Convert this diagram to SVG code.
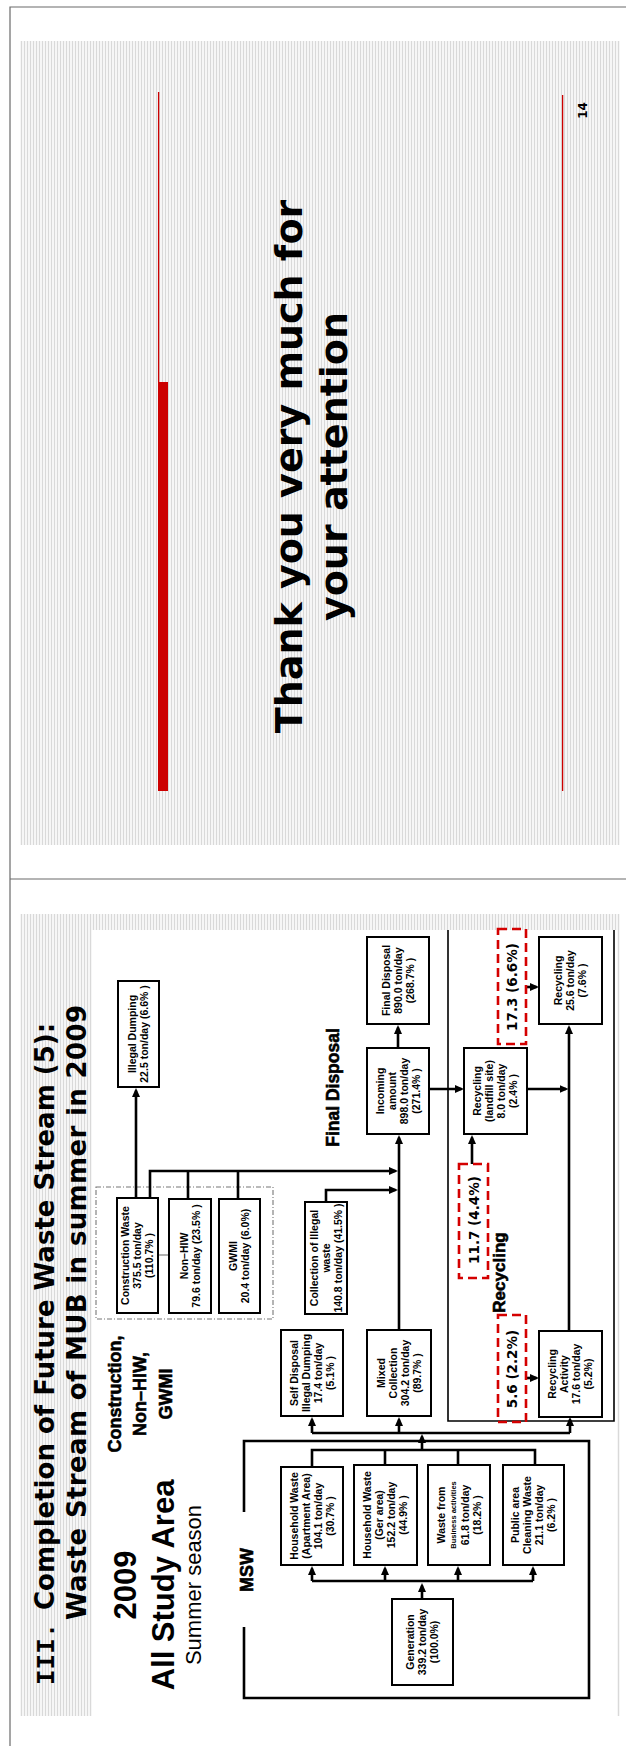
<svg xmlns="http://www.w3.org/2000/svg" width="626" height="1746" viewBox="0 0 626 1746">
  <defs>
    <pattern id="stripes" width="3" height="10" patternUnits="userSpaceOnUse">
      <rect width="3" height="10" fill="#f6f6f6"/>
      <rect width="1" height="10" fill="#d9d9d9"/>
    </pattern>
    <marker id="ah" markerUnits="userSpaceOnUse" markerWidth="9" markerHeight="8" refX="6.5" refY="4" orient="auto">
      <path d="M0,0 L9,4 L0,8 z" fill="#000"/>
    </marker>
    <style>
      .frame { fill: none; stroke: #6a6a6a; stroke-width: 1.2; }
      .box { fill: #fff; stroke: #000; stroke-width: 2; }
      .wire { fill: none; stroke: #000; stroke-width: 2.6; }
      .arrow { fill: none; stroke: #000; stroke-width: 2.6; marker-end: url(#ah); }
      .region { fill: none; stroke: #000; stroke-width: 1.6; }
      .redbox { fill: none; stroke: #d40000; stroke-width: 2.6; stroke-dasharray: 9 5; }
      .t text { font-family: "Liberation Sans", Arial, sans-serif; font-size: 10.5px; font-weight: bold; text-anchor: middle; fill: #000; }
      .t text.small { font-size: 7.5px; }
      .big { font-family: "DejaVu Sans", Verdana, sans-serif; font-weight: bold; fill: #000; }
      .head { font-family: "Liberation Sans", Arial, sans-serif; font-weight: bold; fill: #000; text-anchor: middle; }
      .heavy { stroke: #000; stroke-width: 0.6; }
      .pct { font-family: "DejaVu Sans", Verdana, sans-serif; font-weight: bold; font-size: 13.5px; text-anchor: middle; fill: #000; }
    </style>
  </defs>

  <!-- page -->
  <rect width="626" height="1746" fill="#fff"/>
  <path class="frame" d="M626,7 H10 V1746 M10,879 H626"/>

  <!-- slide 14 -->
  <g id="slide-14">
    <rect x="20" y="41" width="600" height="804" fill="url(#stripes)"/>
    <path d="M158.6,92 V382" stroke="#cc0000" stroke-width="1.3"/>
    <rect x="158" y="382" width="10" height="409" fill="#cc0000"/>
    <path d="M562.6,95 V791" stroke="#cc0000" stroke-width="1.3"/>
    <text transform="translate(587,110.5) rotate(-90)" font-family="DejaVu Sans, sans-serif" font-weight="bold" font-size="12" text-anchor="middle">14</text>
    <g class="big" font-size="38" text-anchor="middle" transform="translate(0,466.5) rotate(-90)">
      <text x="0" y="302">Thank you very much for</text>
      <text x="0" y="347">your attention</text>
    </g>
  </g>

  <!-- slide 13 background -->
  <rect x="20" y="914" width="600" height="802" fill="url(#stripes)"/>
  <rect x="92" y="930" width="525" height="786" fill="#fff"/>

  <!-- slide title -->
  <g id="title">
    <text transform="translate(54,1685) rotate(-90)" font-family="Liberation Mono, Courier New, monospace" font-weight="bold" font-size="26">III.</text>
    <text class="big" font-size="26" transform="translate(54,1610) rotate(-90)">Completion of Future Waste Stream (5):</text>
    <text class="big" font-size="26" transform="translate(86,1620) rotate(-90)" textLength="615" lengthAdjust="spacing">Waste Stream of MUB in summer in 2009</text>
  </g>

  <g id="caption" class="head" transform="translate(0,1585) rotate(-90)">
    <text x="0" y="136" font-size="31">2009</text>
    <text x="0" y="174" font-size="31">All Study Area</text>
    <text x="0" y="201" font-size="22" font-weight="normal">Summer season</text>
  </g>

  <g id="group-label" class="head heavy" font-size="18" transform="translate(0,1394) rotate(-90)">
    <text x="0" y="121">Construction,</text>
    <text x="0" y="146">Non–HIW,</text>
    <text x="0" y="172">GWMI</text>
  </g>

  <text id="msw-label" class="head heavy" font-size="18" transform="translate(253,1570) rotate(-90)">MSW</text>
  <text id="fd-label" class="head heavy" font-size="17.5" transform="translate(339,1087.5) rotate(-90)">Final Disposal</text>
  <text id="rc-label" class="head heavy" font-size="17" transform="translate(505,1272.5) rotate(-90)">Recycling</text>

  <!-- region outlines -->
  <g id="regions">
    <path class="region" d="M448,930 V1421 H614 V930"/>
    <path class="wire" stroke-width="2" d="M244,1512 V1441 H589 V1698 H244 V1627"/>
    <rect x="96" y="1187" width="177" height="132" fill="none" stroke="#777" stroke-width="1.1" stroke-dasharray="5 2 1 2"/>
    <path d="M158,1255 H169" stroke="#999" stroke-width="1.5"/>
  </g>

  <!-- connectors -->
  <g id="connectors">
    <path class="arrow" d="M422,1599 V1585.5"/>
    <path class="wire" d="M312,1581 H533"/>
    <path class="arrow" d="M312,1581 V1568.5"/>
    <path class="arrow" d="M385,1581 V1568.5"/>
    <path class="arrow" d="M458,1581 V1568.5"/>
    <path class="arrow" d="M533,1581 V1568.5"/>
    <path class="wire" d="M312,1467 V1450 H535 V1465 M385,1465 V1450 M458,1465 V1450"/>
    <path class="arrow" d="M422,1450 V1436.5"/>
    <path class="wire" d="M312,1433 H570"/>
    <path class="arrow" d="M312,1433 V1419.5"/>
    <path class="arrow" d="M399,1433 V1419.5"/>
    <path class="arrow" d="M570,1433 V1419.5"/>
    <path class="arrow" d="M399,1330 V1137.5"/>
    <path class="arrow" d="M150,1198 V1171 H395.5"/>
    <path class="wire" d="M188,1199 V1171 M238,1199 V1171"/>
    <path class="arrow" d="M326,1202 V1190 H395.5"/>
    <path class="arrow" d="M136,1198 V1090.5"/>
    <path class="arrow" d="M398,1048 V1027.5"/>
    <path class="arrow" d="M429,1089 H461.5"/>
    <path class="arrow" d="M527,1089 H566"/>
    <path class="arrow" d="M569,1331 V1027.5"/>
    <path class="arrow" stroke-width="2.2" d="M526,987 H536.5"/>
    <path class="arrow" stroke-width="2.2" d="M526,1378 H536.5"/>
    <path class="arrow" stroke-width="2.2" d="M472,1164 V1137.5"/>
  </g>

  <!-- nodes -->
  <g id="n-illegal-dumping">
    <rect class="box" x="118" y="981" width="41" height="106"/>
    <g class="t" transform="translate(138.5,1034) rotate(-90)"><text y="-2.2">Illegal Dumping</text><text y="9.8">22.5 ton/day (6.6% )</text></g>
  </g>
  <g id="n-final-disposal">
    <rect class="box" x="367" y="937" width="62" height="87"/>
    <g class="t" transform="translate(398,980.5) rotate(-90)"><text y="-8.2">Final Disposal</text><text y="3.8">890.0 ton/day</text><text y="15.8">(268.7% )</text></g>
  </g>
  <g id="n-incoming">
    <rect class="box" x="367" y="1048" width="62" height="86"/>
    <g class="t" transform="translate(398,1091) rotate(-90)"><text y="-14.2">Incoming</text><text y="-2.2">amount</text><text y="9.8">898.0 ton/day</text><text y="21.8">(271.4% )</text></g>
  </g>
  <g id="n-recycling-landfill">
    <rect class="box" x="464" y="1048" width="63" height="86"/>
    <g class="t" transform="translate(495.5,1091) rotate(-90)"><text y="-14.2">Recycling</text><text y="-2.2">(landfill site)</text><text y="9.8">8.0 ton/day</text><text y="21.8">(2.4% )</text></g>
  </g>
  <g id="n-recycling-total">
    <rect class="box" x="539" y="937" width="63" height="87"/>
    <g class="t" transform="translate(570.5,980.5) rotate(-90)"><text y="-8.2">Recycling</text><text y="3.8">25.6 ton/day</text><text y="15.8">(7.6% )</text></g>
  </g>
  <g id="n-construction">
    <rect class="box" x="117" y="1198" width="41" height="115"/>
    <g class="t" transform="translate(137.5,1255.5) rotate(-90)"><text y="-8.2">Construction Waste</text><text y="3.8">375.5 ton/day</text><text y="15.8">(110.7% )</text></g>
  </g>
  <g id="n-non-hiw">
    <rect class="box" x="169" y="1199" width="42" height="114"/>
    <g class="t" transform="translate(190,1256) rotate(-90)"><text y="-2.2">Non–HIW</text><text y="9.8">79.6 ton/day (23.5% )</text></g>
  </g>
  <g id="n-gwmi">
    <rect class="box" x="219" y="1199" width="41" height="114"/>
    <g class="t" transform="translate(239.5,1256) rotate(-90)"><text y="-2.2">GWMI</text><text y="9.8">20.4 ton/day (6.0%)</text></g>
  </g>
  <g id="n-illegal-collection">
    <rect class="box" x="305" y="1202" width="42" height="112"/>
    <g class="t" transform="translate(326,1258) rotate(-90)"><text y="-8.2">Collection of Illegal</text><text y="3.8">waste</text><text y="15.8">140.8 ton/day (41.5% )</text></g>
  </g>
  <g id="n-self-disposal">
    <rect class="box" x="281" y="1330" width="62" height="86"/>
    <g class="t" transform="translate(312,1373) rotate(-90)"><text y="-14.2">Self Disposal</text><text y="-2.2">Illegal Dumping</text><text y="9.8">17.4 ton/day</text><text y="21.8">(5.1% )</text></g>
  </g>
  <g id="n-mixed-collection">
    <rect class="box" x="367" y="1330" width="64" height="86"/>
    <g class="t" transform="translate(399,1373) rotate(-90)"><text y="-14.2">Mixed</text><text y="-2.2">Collection</text><text y="9.8">304.2 ton/day</text><text y="21.8">(89.7% )</text></g>
  </g>
  <g id="n-recycling-activity">
    <rect class="box" x="539" y="1331" width="63" height="86"/>
    <g class="t" transform="translate(570.5,1374) rotate(-90)"><text y="-14.2">Recycling</text><text y="-2.2">Activity</text><text y="9.8">17.6 ton/day</text><text y="21.8">(5.2%)</text></g>
  </g>
  <g id="n-hw-apartment">
    <rect class="box" x="281" y="1467" width="62" height="98"/>
    <g class="t" transform="translate(312,1516) rotate(-90)"><text y="-14.2">Household Waste</text><text y="-2.2">(Apartment Area)</text><text y="9.8">104.1 ton/day</text><text y="21.8">(30.7% )</text></g>
  </g>
  <g id="n-hw-ger">
    <rect class="box" x="354" y="1465" width="63" height="100"/>
    <g class="t" transform="translate(385.5,1515) rotate(-90)"><text y="-14.2">Household Waste</text><text y="-2.2">(Ger area)</text><text y="9.8">152.2 ton/day</text><text y="21.8">(44.9% )</text></g>
  </g>
  <g id="n-business">
    <rect class="box" x="428" y="1465" width="62" height="100"/>
    <g class="t" transform="translate(459,1515) rotate(-90)"><text y="-14.2">Waste from</text><text class="small" y="-3.2">Business activities</text><text y="9.8">61.8 ton/day</text><text y="21.8">(18.2% )</text></g>
  </g>
  <g id="n-public-area">
    <rect class="box" x="503" y="1465" width="61" height="100"/>
    <g class="t" transform="translate(533.5,1515) rotate(-90)"><text y="-14.2">Public area</text><text y="-2.2">Cleaning Waste</text><text y="9.8">21.1  ton/day</text><text y="21.8">(6.2% )</text></g>
  </g>
  <g id="n-generation">
    <rect class="box" x="392" y="1599" width="61" height="86"/>
    <g class="t" transform="translate(422.5,1642) rotate(-90)"><text y="-8.2">Generation</text><text y="3.8">339.2 ton/day</text><text y="15.8">(100.0%)</text></g>
  </g>

  <!-- recycled quantities -->
  <g id="n-rc-17-3">
    <rect class="redbox" x="498" y="929" width="28" height="115"/>
    <text class="pct" transform="translate(517,987) rotate(-90)">17.3 (6.6%)</text>
  </g>
  <g id="n-rc-11-7">
    <rect class="redbox" x="459" y="1164" width="29" height="114"/>
    <text class="pct" transform="translate(478.5,1220) rotate(-90)">11.7 (4.4%)</text>
  </g>
  <g id="n-rc-5-6">
    <rect class="redbox" x="498" y="1315" width="28" height="107"/>
    <text class="pct" transform="translate(517,1369) rotate(-90)">5.6 (2.2%)</text>
  </g>
</svg>
